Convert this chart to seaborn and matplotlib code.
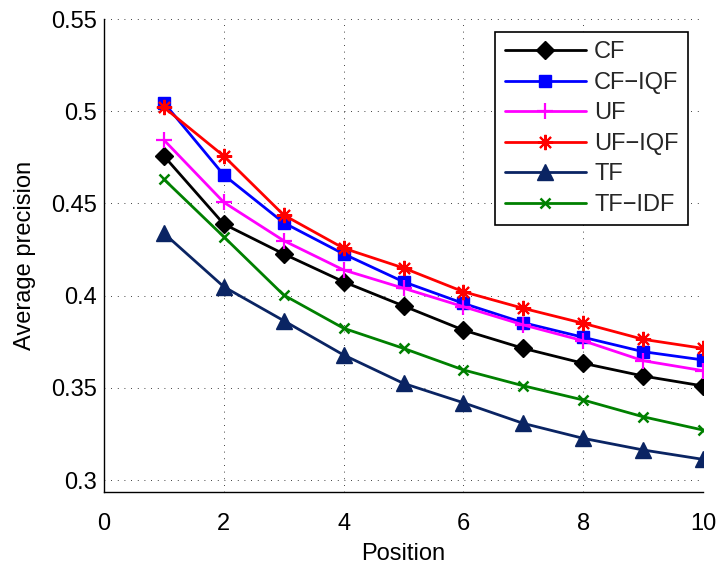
import matplotlib
matplotlib.use("Agg")
import matplotlib.pyplot as plt
import seaborn as sns
import pandas as pd

positions = [1, 2, 3, 4, 5, 6, 7, 8, 9, 10]
cf = [0.4757, 0.4388, 0.4226, 0.4075, 0.3944, 0.3813, 0.3714, 0.3633, 0.3564, 0.3510]
cf_iqf = [0.5046, 0.4654, 0.4395, 0.4226, 0.4075, 0.3958, 0.3853, 0.3774, 0.3696, 0.3651]
uf = [0.4844, 0.4506, 0.4298, 0.4139, 0.4040, 0.3940, 0.3841, 0.3755, 0.3647, 0.3593]
uf_iqf = [0.5021, 0.4757, 0.4437, 0.4257, 0.4150, 0.4021, 0.3931, 0.3850, 0.3763, 0.3714]
tf = [0.4338, 0.4048, 0.3864, 0.3678, 0.3524, 0.3419, 0.3307, 0.3226, 0.3163, 0.3112]
tf_idf = [0.4631, 0.4319, 0.4003, 0.3823, 0.3714, 0.3597, 0.3511, 0.3434, 0.3343, 0.3271]

series_names = ["CF", "CF\u2212IQF", "UF", "UF\u2212IQF", "TF", "TF\u2212IDF"]
series_values = [cf, cf_iqf, uf, uf_iqf, tf, tf_idf]
colors = ["#000000", "#0000ff", "#ff00ff", "#ff0000", "#0a2463", "#008000"]
markers = ["D", "s", "+", (8, 2, 0), "^", "x"]
msizes = [9, 9, 11, 11, 12, 7]
mews = [1, 1, 1.6, 1.5, 1, 1.8]

xticks = [0, 2, 4, 6, 8, 10]
yticks = [0.3, 0.35, 0.4, 0.45, 0.5, 0.55]
ytick_labels = ["0.3", "0.35", "0.4", "0.45", "0.5", "0.55"]

sns.set_theme(style="white")
plt.rcParams['font.family'] = ['Liberation Sans', 'DejaVu Sans']

fig = plt.figure(figsize=(7.16, 5.64), dpi=100)
ax = fig.add_axes([104/716, 1 - 492/564, (703-104)/716, (492-19)/564])

for name, vals, c, m, ms, mew in zip(series_names, series_values, colors, markers, msizes, mews):
    df = pd.DataFrame({"Position": positions, "Average precision": vals})
    sns.lineplot(data=df, x="Position", y="Average precision", ax=ax, color=c,
                 marker=m, markersize=ms, markeredgecolor=c, markerfacecolor=c,
                 markeredgewidth=mew, linewidth=2, label=name)

ax.set_xlim(0, 10)
ax.set_ylim(0.2935, 0.55)
ax.set_xticks(xticks)
ax.set_xticklabels([str(t) for t in xticks])
ax.set_yticks(yticks)
ax.set_yticklabels(ytick_labels)
ax.tick_params(direction="in", length=5, width=0.8, colors="black", labelsize=17)
ax.tick_params(axis="x", pad=15)
ax.tick_params(axis="y", pad=5)
ax.grid(True, color="black", linestyle=(0, (1, 7)), linewidth=0.6)
for s in ["top", "right"]:
    ax.spines[s].set_visible(False)
for s in ["left", "bottom"]:
    ax.spines[s].set_color("black")
    ax.spines[s].set_linewidth(1)
ax.set_xlabel("Position", fontsize=17, color="black", labelpad=6)
ax.set_ylabel("Average precision", fontsize=17, color="black", labelpad=11)

leg = ax.legend(loc="upper right", bbox_to_anchor=(0.975, 0.9725), borderaxespad=0,
                fontsize=17, frameon=True, fancybox=False, edgecolor="black", framealpha=1,
                handlelength=3.43, borderpad=0.4, labelspacing=0.36, handletextpad=0.35)
leg.get_frame().set_linewidth(1.2)

fig.savefig("out.png", dpi=100)
